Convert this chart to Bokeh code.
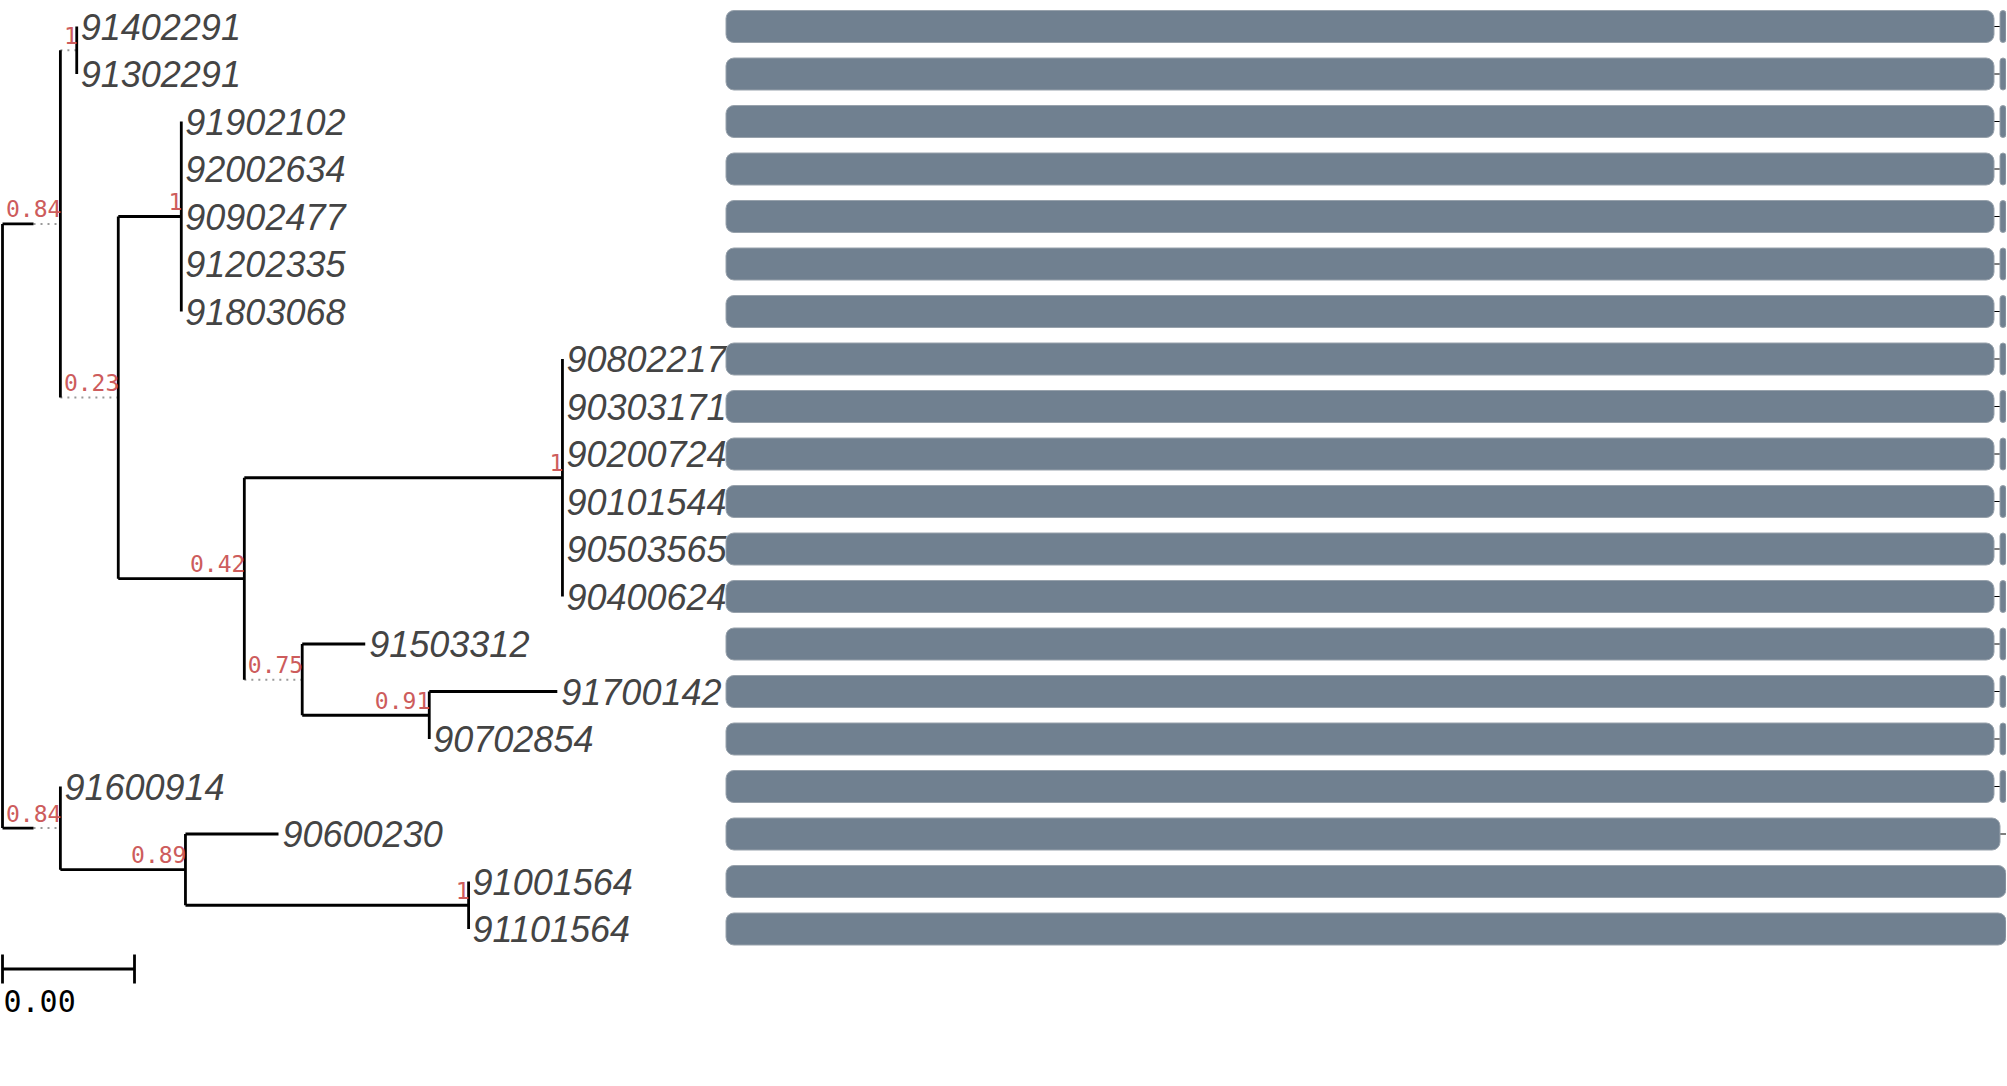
from bokeh.plotting import figure
from bokeh.models import Range1d, ColumnDataSource
from bokeh.core.properties import value
from bokeh.embed import file_html
from bokeh.resources import INLINE

# ---------------- data ----------------
leaf_names = ["91402291", "91302291", "91902102", "92002634", "90902477",
              "91202335", "91803068", "90802217", "90303171", "90200724",
              "90101544", "90503565", "90400624", "91503312", "91700142",
              "90702854", "91600914", "90600230", "91001564", "91101564"]
leaf_parent = ["A1", "A1", "A2a", "A2a", "A2a", "A2a", "A2a", "A2b1", "A2b1", "A2b1",
               "A2b1", "A2b1", "A2b1", "A2b2", "A2b2b", "A2b2b", "B", "B1", "B1b", "B1b"]
leaf_branch = [0.0, 0.0, 0.0, 0.0, 0.0, 0.0, 0.0, 0.0, 0.0, 0.0,
               0.0, 0.0, 0.0, 0.00191, 0.00388, 0.0, 0.0, 0.00282, 0.0, 0.0]

node_ids = ["R", "A", "A1", "A2", "A2a", "A2b", "A2b1", "A2b2", "A2b2b", "B", "B1", "B1b"]
node_parent = [None, "R", "A", "A", "A2", "A2", "A2b", "A2b", "A2b2", "R", "B", "B1"]
node_branch = [0.0, 0.00094, 0.0, 0.0, 0.00191, 0.00382, 0.00964, 0.0, 0.00385, 0.00094, 0.00379, 0.00858]
node_support = [None, 0.84, 1, 0.23, 1, 0.42, 1, 0.75, 0.91, 0.84, 0.89, 1]

scale_bar_length = 0.004

# protein architecture (amino-acid positions)
seq_length = [640, 640, 640, 640, 640, 640, 640, 640, 640, 640,
              640, 640, 640, 640, 640, 640, 640, 640, 640, 640]
dom1_end = [634, 634, 634, 634, 634, 634, 634, 634, 634, 634,
            634, 634, 634, 634, 634, 634, 634, 637, 640, 640]
dom2_start = [637, 637, 637, 637, 637, 637, 637, 637, 637, 637,
              637, 637, 637, 637, 637, 637, 637, None, None, None]
dom2_end = [640, 640, 640, 640, 640, 640, 640, 640, 640, 640,
            640, 640, 640, 640, 640, 640, 640, None, None, None]

# ---------------- layout constants ----------------
W, H = 2006, 1070
ROW_PX = 47.5
FIRST_ROW_PX = 26.0
PX_PER_UNIT = 33000.0
ROOT_PX = 2.0
SEQ_ORIGIN_PX = 725.5
SEQ_PX_PER_AA = 2.0
SUP_FS = 23
MONO = "DejaVu Sans Mono"

def sup_text(s):
    return "1" if s == 1 else f"{s:g}"

def label_w_units(t):
    return (SUP_FS * 0.602 * len(t) + 2.5) / PX_PER_UNIT

# ---------------- tree layout ----------------
idx = {n: i for i, n in enumerate(node_ids)}
children = {n: [] for n in node_ids}
for n, par in zip(node_ids, node_parent):
    if par is not None:
        children[par].append(("node", n))
for i, par in enumerate(leaf_parent):
    children[par].append(("leaf", i))

node_x = {}
node_y = {}
leaf_x = [0.0] * len(leaf_names)
leaf_y = list(range(len(leaf_names)))

def place_x(n, px):
    node_x[n] = px
    for kind, c in children[n]:
        if kind == "node":
            j = idx[c]
            ext = max(node_branch[j], label_w_units(sup_text(node_support[j])))
            place_x(c, px + ext)
        else:
            leaf_x[c] = px + leaf_branch[c]

place_x("R", 0.0)

def place_y(n):
    ys = []
    for kind, c in children[n]:
        ys.append(place_y(c) if kind == "node" else leaf_y[c])
    node_y[n] = (min(ys) + max(ys)) / 2
    return node_y[n]

place_y("R")

solid = dict(x0=[], x1=[], y0=[], y1=[])
dotted = dict(x0=[], x1=[], y0=[], y1=[])

def add(d, x0, x1, y0, y1):
    d["x0"].append(x0); d["x1"].append(x1); d["y0"].append(y0); d["y1"].append(y1)

for n in node_ids:
    kids = children[n]
    ys = [node_y[c] if k == "node" else leaf_y[c] for k, c in kids]
    add(solid, node_x[n], node_x[n], min(ys), max(ys))
    par = node_parent[idx[n]]
    if par is not None:
        px = node_x[par]
        bl = node_branch[idx[n]]
        if bl > 0:
            add(solid, px, px + bl, node_y[n], node_y[n])
        if node_x[n] > px + bl + 1e-12:
            add(dotted, px + bl, node_x[n], node_y[n], node_y[n])
for i in range(len(leaf_names)):
    if leaf_branch[i] > 0:
        px = node_x[leaf_parent[i]]
        add(solid, px, leaf_x[i], leaf_y[i], leaf_y[i])

# ---------------- figure ----------------
y_top = -FIRST_ROW_PX / ROW_PX
y_bot = (H - FIRST_ROW_PX) / ROW_PX
p = figure(width=W, height=H,
           x_range=Range1d(-ROOT_PX / PX_PER_UNIT, (W - ROOT_PX) / PX_PER_UNIT),
           y_range=Range1d(y_bot, y_top),
           output_backend="svg", toolbar_location=None,
           x_axis_type=None, y_axis_type=None,
           min_border=0, outline_line_color=None,
           background_fill_color="white", border_fill_color="white")
p.grid.visible = False
p.extra_x_ranges = {"seq": Range1d(-SEQ_ORIGIN_PX / SEQ_PX_PER_AA, (W - SEQ_ORIGIN_PX) / SEQ_PX_PER_AA)}

# tree lines
p.segment(x0="x0", x1="x1", y0="y0", y1="y1", source=ColumnDataSource(dotted),
          line_color="#9a9a9a", line_width=2, line_dash="2 5")
p.segment(x0="x0", x1="x1", y0="y0", y1="y1", source=ColumnDataSource(solid),
          line_color="black", line_width=2.8)

# support labels (floated above the branch)
sup_nodes = [n for n in node_ids if node_support[idx[n]] is not None]
p.text(x=[node_x[n] for n in sup_nodes], y=[node_y[n] for n in sup_nodes],
       text=[sup_text(node_support[idx[n]]) for n in sup_nodes],
       text_align="right", text_baseline="middle", x_offset=1, y_offset=-15,
       text_font=value(MONO), text_font_size=f"{SUP_FS}px", text_color="#cd5c5c")

# leaf labels
p.text(x=leaf_x, y=leaf_y, text=leaf_names, x_offset=4, y_offset=0,
       text_align="left", text_baseline="middle",
       text_font=value("Liberation Sans"), text_font_style="italic",
       text_font_size="36px", text_color="#444444")

# scale bar
sb_y = len(leaf_names) - 1 + 40 / ROW_PX
tick = 14.5 / ROW_PX
p.segment(x0=[0, 0, scale_bar_length], x1=[scale_bar_length, 0, scale_bar_length],
          y0=[sb_y, sb_y - tick, sb_y - tick], y1=[sb_y, sb_y + tick, sb_y + tick],
          line_color="black", line_width=2.8)
p.text(x=[0], y=[sb_y + 21 / ROW_PX], text=[f"{scale_bar_length:.2f}"],
       x_offset=1, text_align="left", text_baseline="top",
       text_font=value(MONO), text_font_size="30px", text_color="black")

# protein architectures
rows = list(range(len(leaf_names)))
p.segment(x0=[0] * len(rows), x1=seq_length, y0=rows, y1=rows, x_range_name="seq",
          line_color="black", line_width=1.2)
bar_h = 32 / ROW_PX
p.hbar(y=rows, left=[0] * len(rows), right=dom1_end, height=bar_h, x_range_name="seq",
       fill_color="#708090", line_color="#98a2ac", line_width=1, border_radius=8)
d2_rows = [r for r in rows if dom2_start[r] is not None]
p.hbar(y=d2_rows, left=[dom2_start[r] for r in d2_rows], right=[dom2_end[r] for r in d2_rows],
       height=bar_h, x_range_name="seq",
       fill_color="#708090", line_color="#98a2ac", line_width=1, border_radius=3)

open("out.html", "w").write(file_html(p, INLINE))
